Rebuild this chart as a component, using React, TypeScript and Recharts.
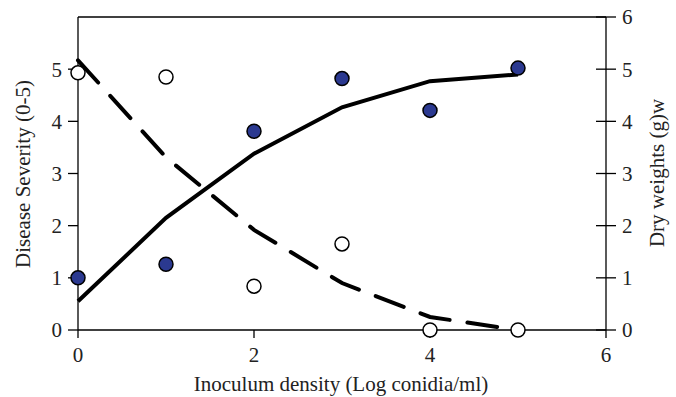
import React from "react";
import {
  ComposedChart,
  Line,
  XAxis,
  YAxis,
  ReferenceLine,
} from "recharts";

const density = [0, 1, 2, 3, 4, 5];
const severityObs = [1.0, 1.26, 3.81, 4.82, 4.21, 5.02];
const dryWeightObs = [4.93, 4.85, 0.84, 1.65, 0, 0];
const severityFit = [0.55, 2.15, 3.38, 4.27, 4.77, 4.9];
const dryWeightFit = [5.17, 3.31, 1.92, 0.9, 0.25, 0];

const xTicks = [0, 2, 4, 6];
const leftTicks = [0, 1, 2, 3, 4, 5];
const rightTicks = [0, 1, 2, 3, 4, 5, 6];

const data = density.map((x, i) => ({
  x,
  sevObs: severityObs[i],
  dryObs: dryWeightObs[i],
  sevFit: severityFit[i],
  dryFit: dryWeightFit[i],
}));

const FONT = "'Liberation Serif', 'Times New Roman', serif";
const tickStyle = { fontFamily: FONT, fontSize: 21, fill: "#222" };
const titleStyle = { fontFamily: FONT, fontSize: 21, fill: "#222" };

// right axis ticks cross the axis line on both sides
const RightTick = (props: any) => {
  const { x, y, payload } = props;
  return (
    <g>
      <line x1={x - 26} x2={x - 6} y1={y} y2={y} stroke="#000" strokeWidth={1.3} />
      <text x={x} y={y} dy="0.35em" textAnchor="start" {...tickStyle}>
        {payload.value}
      </text>
    </g>
  );
};

const App = () => {
  return (
    <div style={{ position: "absolute", left: 0, top: 0 }}>
      <ComposedChart
        width={676}
        height={397}
        data={data}
        margin={{ top: 17, right: 0, bottom: 0, left: 0 }}
      >
        <XAxis
          dataKey="x"
          type="number"
          domain={[0, 6]}
          ticks={xTicks}
          height={67}
          tickSize={8}
          tickMargin={9}
          tick={tickStyle}
          axisLine={{ stroke: "#000", strokeWidth: 1.3 }}
          tickLine={{ stroke: "#000", strokeWidth: 1.3 }}
          label={{
            content: () => (
              <text x={341} y={391} textAnchor="middle" {...titleStyle}>
                Inoculum density (Log conidia/ml)
              </text>
            ),
          }}
        />
        <YAxis
          yAxisId="left"
          domain={[0, 6]}
          ticks={leftTicks}
          width={78}
          tickSize={10}
          tickMargin={6}
          tick={tickStyle}
          axisLine={{ stroke: "#000", strokeWidth: 1.3 }}
          tickLine={{ stroke: "#000", strokeWidth: 1.3 }}
          label={{
            content: () => (
              <text
                x={30}
                y={174}
                textAnchor="middle"
                transform="rotate(-90 30 174)"
                {...titleStyle}
              >
                Disease Severity (0-5)
              </text>
            ),
          }}
        />
        <YAxis
          yAxisId="right"
          orientation="right"
          domain={[0, 6]}
          ticks={rightTicks}
          width={70}
          tickSize={10}
          tickMargin={6}
          tickLine={false}
          tick={<RightTick />}
          axisLine={{ stroke: "#000", strokeWidth: 1.3 }}
          label={{
            content: () => (
              <text
                x={664}
                y={173}
                textAnchor="middle"
                transform="rotate(-90 664 173)"
                {...titleStyle}
              >
                Dry weights (g)w
              </text>
            ),
          }}
        />
        <ReferenceLine yAxisId="right" y={6} stroke="#000" strokeWidth={1.3} />
        <Line
          yAxisId="left"
          dataKey="sevFit"
          stroke="#000"
          strokeWidth={4}
          dot={false}
          activeDot={false}
          isAnimationActive={false}
        />
        <Line
          yAxisId="right"
          dataKey="dryFit"
          stroke="#000"
          strokeWidth={4}
          strokeDasharray="30 18"
          strokeLinecap="round"
          dot={false}
          activeDot={false}
          isAnimationActive={false}
        />
        <Line
          yAxisId="left"
          dataKey="sevObs"
          stroke="none"
          dot={{ r: 7, fill: "#2B3990", stroke: "#000", strokeWidth: 1.5 }}
          activeDot={false}
          isAnimationActive={false}
        />
        <Line
          yAxisId="right"
          dataKey="dryObs"
          stroke="none"
          dot={{ r: 7, fill: "#fff", stroke: "#000", strokeWidth: 1.5 }}
          activeDot={false}
          isAnimationActive={false}
        />
      </ComposedChart>
    </div>
  );
};

export default App;
